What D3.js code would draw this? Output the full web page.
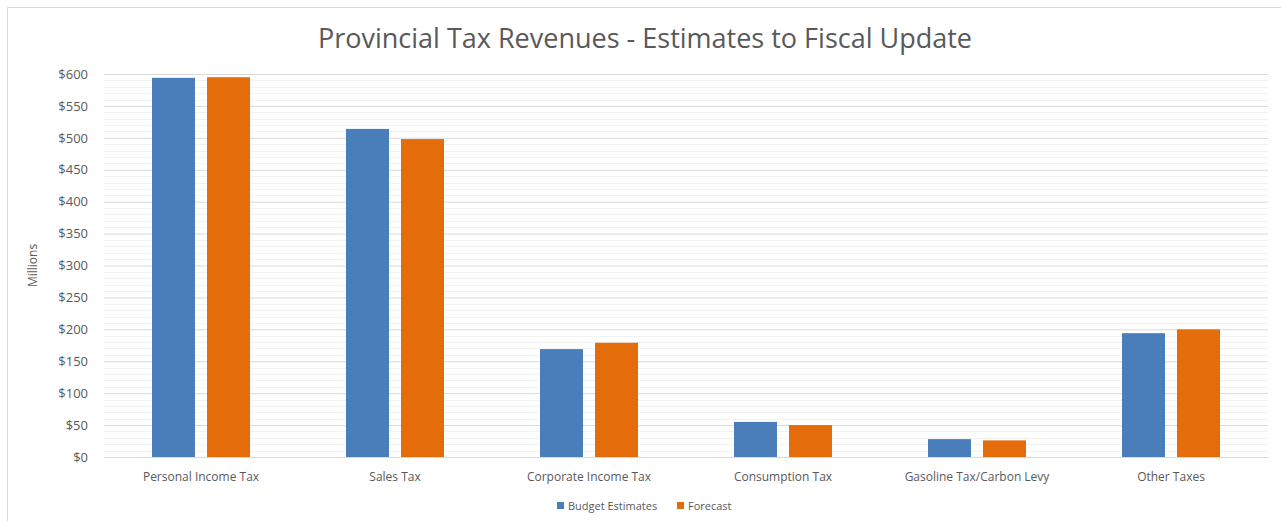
<!DOCTYPE html>
<html>
<head>
<meta charset="utf-8">
<script src="https://cdn.jsdelivr.net/npm/d3@7"></script>
<style>
  body { margin: 0; background: #fff; }
  svg { display: block; font-family: "Open Sans", sans-serif; }
</style>
</head>
<body>
<div id="chart"></div>
<script>
// Chart size and plot margins
const width = 1281;
const height = 521;
const margin = {left: 104, right: 13, top: 74, bottom: 64};

// Data (millions of dollars)
const categories = ["Personal Income Tax", "Sales Tax", "Corporate Income Tax",
                    "Consumption Tax", "Gasoline Tax/Carbon Levy", "Other Taxes"];
const seriesNames = ["Budget Estimates", "Forecast"];
const budgetEstimates = [594, 514, 169, 55, 28, 194];
const forecast = [595, 498, 179, 50, 26, 200];
const yTicks = [0, 50, 100, 150, 200, 250, 300, 350, 400, 450, 500, 550, 600];
const colors = ["#4a7ebb", "#e46c0a"];

const svg = d3.select("#chart")
  .append("svg")
  .attr("width", width)
  .attr("height", height);

// outer frame of the chart area (only top and left edges are in view)
svg.append("line")
  .attr("x1", 7.5).attr("x2", width)
  .attr("y1", 7.5).attr("y2", 7.5)
  .attr("stroke", "#d9d9d9");
svg.append("line")
  .attr("x1", 7.5).attr("x2", 7.5)
  .attr("y1", 7.5).attr("y2", height)
  .attr("stroke", "#d9d9d9");

// scales
const yScale = d3.scaleLinear()
  .domain([0, 600])
  .range([height - margin.bottom, margin.top]);

const xScale = d3.scaleBand()
  .domain(categories)
  .range([margin.left, width - margin.right])
  .padding(0);

const innerWidth = 98;
const xInner = d3.scaleBand()
  .domain(seriesNames)
  .range([0, innerWidth])
  .paddingInner(12 / 55)
  .paddingOuter(0);

// minor gridlines every 10
svg.append("g")
  .selectAll("line")
  .data(d3.range(0, 601, 10).filter(v => v % 50 !== 0))
  .join("line")
    .attr("x1", margin.left)
    .attr("x2", width - margin.right)
    .attr("y1", d => Math.round(yScale(d)) + 0.5)
    .attr("y2", d => Math.round(yScale(d)) + 0.5)
    .attr("stroke", "#f2f2f2");

// major gridlines + y labels
const yAxis = svg.append("g")
  .attr("transform", `translate(${margin.left},0)`)
  .call(d3.axisLeft(yScale)
    .tickValues(yTicks)
    .tickSize(-(width - margin.left - margin.right))
    .tickPadding(16)
    .tickFormat(d => "$" + d));
yAxis.select(".domain").remove();
yAxis.selectAll(".tick line").attr("stroke", "#d9d9d9");
yAxis.selectAll(".tick text")
  .attr("fill", "#595959")
  .attr("font-size", "13px")
  .attr("font-family", "Open Sans, sans-serif");

// y axis title
svg.append("text")
  .attr("transform", `translate(37,${(margin.top + height - margin.bottom) / 2}) rotate(-90)`)
  .attr("text-anchor", "middle")
  .attr("fill", "#595959")
  .attr("font-size", "12px")
  .text("Millions");

// bars
const groups = svg.append("g")
  .selectAll("g")
  .data(categories)
  .join("g")
    .attr("transform", d => `translate(${xScale(d) + xScale.bandwidth() / 2 - innerWidth / 2},0)`);

groups.selectAll("rect")
  .data((d, i) => [budgetEstimates[i], forecast[i]].map((v, j) => ({key: seriesNames[j], value: v, j: j})))
  .join("rect")
    .attr("x", d => xInner(d.key))
    .attr("y", d => yScale(d.value))
    .attr("width", xInner.bandwidth())
    .attr("height", d => yScale(0) - yScale(d.value))
    .attr("fill", d => colors[d.j]);

// x labels
const xAxis = svg.append("g")
  .attr("transform", `translate(0,${height - margin.bottom})`)
  .call(d3.axisBottom(xScale).tickSize(0).tickPadding(15));
xAxis.select(".domain").attr("stroke", "#d9d9d9");
xAxis.selectAll(".tick text")
  .attr("fill", "#595959")
  .attr("font-size", "12px")
  .attr("font-family", "Open Sans, sans-serif");

// title
svg.append("text")
  .attr("x", 645)
  .attr("y", 48)
  .attr("text-anchor", "middle")
  .attr("fill", "#595959")
  .attr("font-size", "27px")
  .text("Provincial Tax Revenues - Estimates to Fiscal Update");

// legend
const legend = svg.append("g")
  .attr("transform", "translate(557,506)");
const legendX = [0, 120];
seriesNames.forEach((name, i) => {
  legend.append("rect")
    .attr("x", legendX[i])
    .attr("y", -4)
    .attr("width", 7)
    .attr("height", 7)
    .attr("fill", colors[i]);
  legend.append("text")
    .attr("x", legendX[i] + 11)
    .attr("y", 4)
    .attr("fill", "#595959")
    .attr("font-size", "11px")
    .text(name);
});
</script>
</body>
</html>
